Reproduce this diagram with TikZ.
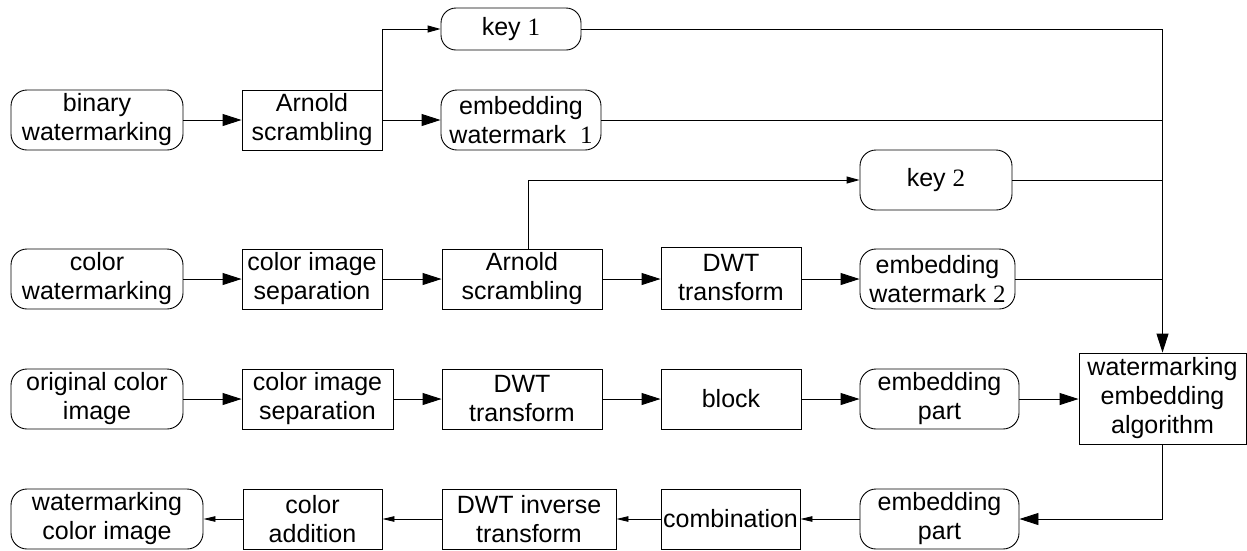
\documentclass[tikz,border=0pt]{standalone}
\usepackage{fontspec}
\setmainfont{Liberation Sans}
\newfontfamily\numfont{Liberation Serif}
\usetikzlibrary{arrows.meta}
\newcommand{\nm}[1]{{\numfont #1}}
\begin{document}
\begin{tikzpicture}[x=1pt,y=-1pt,
  every node/.style={font=\fontsize{25}{29}\selectfont, align=center, inner sep=0pt, line width=0.9pt},
  procbox/.style={draw, minimum height=60pt},
  termbox/.style={draw, rounded corners=16pt, minimum height=60pt},
  link/.style={line width=0.9pt},
  bigarr/.style={link, -{Triangle[length=19pt,width=12pt]}},
  midarr/.style={link, -{Triangle[length=13pt,width=7pt]}},
  smallarr/.style={link, -{Triangle[length=12pt,width=5.5pt]}}]
\useasboundingbox (0,0) rectangle (1247,550);

% first row: binary watermark
\node[termbox, minimum width=172pt] (bin) at (97,120) {binary\\watermarking};
\node[procbox, minimum width=140pt] (arn1) at (312,120) {Arnold\\scrambling};
\node[termbox, minimum width=160pt] (emb1) at (521,120) {embedding\\watermark\ \ \nm{1}};
\node[termbox, rounded corners=15pt, minimum width=140pt, minimum height=42pt] (key1) at (511,29) {key \nm{1}};

% second key
\node[termbox, minimum width=152pt] (key2) at (936,180) {key \nm{2}};

% color watermark row
\node[termbox, minimum width=172pt] (cwm) at (97,279) {color\\watermarking};
\node[procbox, minimum width=140pt] (sep1) at (312,279) {color image\\separation};
\node[procbox, minimum width=160pt] (arn2) at (522,279) {Arnold\\scrambling};
\node[procbox, minimum width=140pt, minimum height=62pt] (dwt1) at (731,278) {DWT\\transform};
\node[termbox, minimum width=155pt] (emb2) at (937.5,279) {embedding\\watermark \nm{2}};

% host image row
\node[termbox, minimum width=172pt] (orig) at (97,399) {original color\\image};
\node[procbox, minimum width=151pt] (sep2) at (317.5,399) {color image\\separation};
\node[procbox, minimum width=160pt] (dwt2) at (522,399) {DWT\\transform};
\node[procbox, minimum width=140pt] (blk) at (731,399) {block};
\node[termbox, minimum width=159pt] (part1) at (939.5,399) {embedding\\part};
\node[procbox, minimum width=167pt, minimum height=91pt] (alg) at (1162.5,398.5) {watermarking\\embedding\\algorithm};

% output row
\node[termbox, minimum width=192pt] (out) at (107,519) {watermarking\\color image};
\node[procbox, minimum width=139pt] (add) at (312.5,519) {color\\addition};
\node[procbox, minimum width=174pt] (idwt) at (529,519) {DWT inverse\\transform};
\node[procbox, minimum width=139pt] (comb) at (730.5,519) {combination};
\node[termbox, minimum width=159pt] (part2) at (939.5,519) {embedding\\part};

% connectors, first row
\draw[bigarr] (bin) -- (arn1);
\draw[bigarr] (arn1) -- (emb1);
\draw[midarr] (arn1.north east) |- (key1.west);
\draw[bigarr] (key1.east) -| (alg.north);
\draw[link] (emb1.east) -- (emb1.east -| alg.north);

% connectors, color watermark row
\coordinate (tap) at ([xshift=6pt]arn2.north);
\draw[bigarr] (cwm) -- (sep1);
\draw[bigarr] (sep1) -- (arn2);
\draw[bigarr] (arn2) -- (dwt1.west |- arn2.east);
\draw[bigarr] (dwt1.east |- emb2.west) -- (emb2);
\draw[midarr] (tap) |- (key2.west);
\draw[link] (key2.east) -- (key2.east -| alg.north);
\draw[link] (emb2.east) -- (emb2.east -| alg.north);

% connectors, host image row
\draw[bigarr] (orig) -- (sep2);
\draw[bigarr] (sep2) -- (dwt2);
\draw[bigarr] (dwt2) -- (blk);
\draw[bigarr] (blk) -- (part1);
\draw[bigarr] (part1) -- (part1 -| alg.west);

% connectors, output row
\draw[bigarr] (alg.south) |- (part2.east);
\draw[smallarr] (part2) -- (comb);
\draw[smallarr] (comb) -- (idwt);
\draw[smallarr] (idwt) -- (add);
\draw[smallarr] (add) -- (out);
\end{tikzpicture}
\end{document}
